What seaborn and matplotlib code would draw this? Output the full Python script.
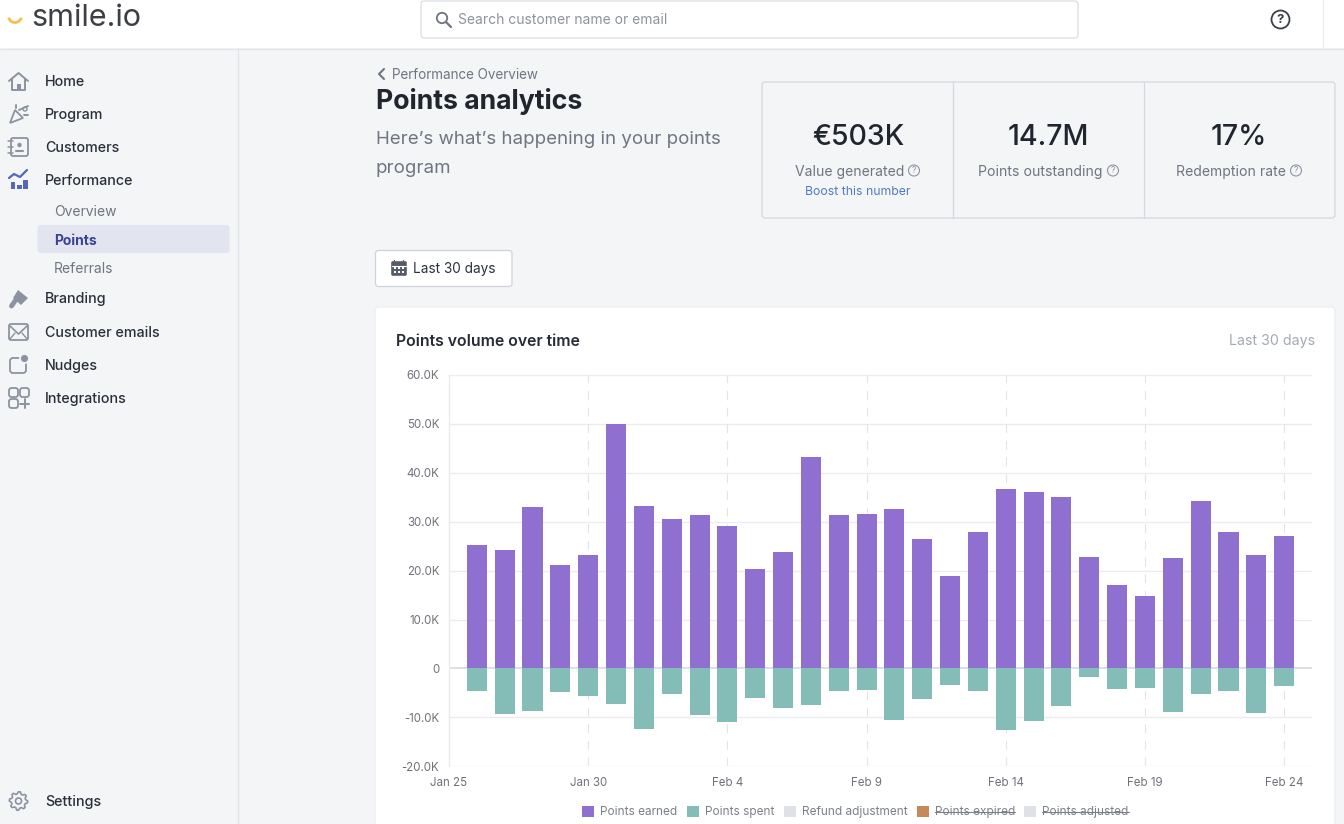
import numpy as np
import pandas as pd
import seaborn as sns
import matplotlib
matplotlib.use("Agg")
import matplotlib.pyplot as plt
from matplotlib.patches import Rectangle, FancyBboxPatch, Circle, Polygon, Arc
from matplotlib.lines import Line2D

# ---- chart data ----
days = list(range(1, 31))
earned = [25.2, 24.3, 33.0, 21.1, 23.2, 50.0, 33.2, 30.5, 31.3, 29.1, 20.4, 23.8, 43.3, 31.3, 31.5,
          32.5, 26.4, 18.9, 27.8, 36.6, 36.0, 35.1, 22.8, 17.0, 14.9, 22.6, 34.3, 27.9, 23.2, 27.1]
spent = [-4.6, -9.4, -8.7, -4.8, -5.7, -7.2, -12.4, -5.2, -9.5, -11.0, -6.0, -8.2, -7.5, -4.6, -4.5,
         -10.6, -6.3, -3.3, -4.6, -12.5, -10.8, -7.7, -1.7, -4.3, -4.0, -8.9, -5.2, -4.6, -9.1, -3.5]
tick_days = [0, 5, 10, 15, 20, 25, 30]
tick_dates = ["Jan 25", "Jan 30", "Feb 4", "Feb 9", "Feb 14", "Feb 19", "Feb 24"]
y_ticks = [-20, -10, 0, 10, 20, 30, 40, 50, 60]
y_labels = ["-20.0K", "-10.0K", "0", "10.0K", "20.0K", "30.0K", "40.0K", "50.0K", "60.0K"]
legend_names = ["Points earned", "Points spent", "Refund adjustment", "Points expired", "Points adjusted"]
legend_colors = ["#8F70D1", "#84BCB8", "#DFE1E7", "#C68A58", "#DFE1E7"]
nav_main = ["Home", "Program", "Customers", "Performance"]
nav_sub = ["Overview", "Points", "Referrals"]
nav_more = ["Branding", "Customer emails", "Nudges", "Integrations"]
kpi_values = ["€503K", "14.7M", "17%"]
kpi_names = ["Value generated", "Points outstanding", "Redemption rate"]

sns.set_theme(style="white")
plt.rcParams["font.family"] = ["Inter", "DejaVu Sans"]

W, H = 1344, 824
PAGE = "#F4F5F7"
fig = plt.figure(figsize=(W / 100, H / 100), dpi=100, facecolor=PAGE)

# ---- page furniture, in pixel coordinates ----
bg = fig.add_axes([0, 0, 1, 1], zorder=0)
bg.set_xlim(0, W)
bg.set_ylim(H, 0)
bg.axis("off")

INK = "#2A303B"
GREY = "#6F7581"
ICON = "#8C93A0"


def T(x, y, s, size, color=INK, weight="normal", ha="left", **kw):
    return bg.text(x, y + 1, s, fontsize=size, color=color, fontweight=weight, ha=ha, va="center", **kw)


def box(x0, y0, x1, y1, fc="white", ec="#D5D8DF", lw=0.8, r=3, z=1):
    p = FancyBboxPatch((x0 + r, y0 + r), x1 - x0 - 2 * r, y1 - y0 - 2 * r,
                       boxstyle=f"round,pad={r},rounding_size={r}",
                       fc=fc, ec=ec, lw=lw, zorder=z)
    bg.add_patch(p)
    return p


def L(xs, ys, color=ICON, lw=1.4, **kw):
    bg.add_line(Line2D(xs, ys, color=color, lw=lw, solid_capstyle="round", **kw))


# top bar
bg.add_patch(Rectangle((0, 0), W, 48, fc="white", ec="none", zorder=1))
bg.add_line(Line2D([0, W], [48.5, 48.5], color="#E3E5EA", lw=1.0, zorder=2))
bg.add_line(Line2D([238, 238], [48, H], color="#E3E5EA", lw=1.0, zorder=2))
bg.add_line(Line2D([1322.5, 1322.5], [0, 48], color="#E8EAEE", lw=0.8, zorder=2))
bg.add_patch(Arc((15, 16), 13, 13, theta1=15, theta2=165, color="#F2C14E", lw=2.0, zorder=3))
T(31, 17, "smile.io", 22, color="#3C3F44", zorder=3)
box(421, 1, 1078, 38, z=2)
bg.add_patch(Circle((442, 18), 5.2, fc="none", ec=GREY, lw=1.3, zorder=3))
L([446, 451], [22, 27], color=GREY, lw=1.6, zorder=3)
T(458, 19, "Search customer name or email", 10, color="#8E939D", zorder=3)
bg.add_patch(Circle((1280.5, 19.5), 9, fc="none", ec="#3B3F47", lw=1.3, zorder=3))
T(1280.5, 18.5, "?", 9.5, color="#3B3F47", weight="bold", ha="center", zorder=3)

# sidebar
for s, y in zip(nav_main, [81, 114, 146.5, 179.5]):
    T(45, y, s, 10.3, weight="medium")
bg.add_patch(FancyBboxPatch((38.5, 226), 190, 26, boxstyle="round,pad=1,rounding_size=3",
                            fc="#E2E5F0", ec="none", zorder=1))
for s, y in zip(nav_sub, [210.5, 239.5, 268]):
    active = s == "Points"
    T(54, y, s, 10, color="#3A4393" if active else GREY, weight="bold" if active else "normal", zorder=3)
for s, y in zip(nav_more, [298.5, 331.5, 364.5, 397.5]):
    T(45, y, s, 10.3, weight="medium")
T(45, 801, "Settings", 10.3, weight="medium")

# sidebar icons
L([9, 18.5, 28], [81, 73, 81])
L([12, 12, 25, 25], [79, 90, 90, 79])
bg.add_patch(Rectangle((16.5, 84), 4, 6, fc=ICON, ec="none"))
bg.add_patch(Polygon([(10, 123), (15, 110), (23, 118)], closed=True, fc="none", ec=ICON, lw=1.3))
L([19, 28], [110, 106]); L([24, 28], [115, 115]); L([16, 16], [105, 108])
bg.add_patch(Circle((25, 109), 2, fc="none", ec=ICON, lw=1))
box(11, 138, 28, 156, fc="none", ec=ICON, lw=1.3, r=2)
for yy in [141, 147, 153]:
    L([8, 13], [yy, yy], lw=1.1)
bg.add_patch(Circle((19.5, 145), 2.2, fc=ICON, ec="none"))
L([16, 23], [151, 151], lw=1.5)
bg.add_patch(Rectangle((10.5, 182), 4.5, 7, fc="#5667B8", ec="none"))
bg.add_patch(Rectangle((17, 185), 4.5, 4, fc="#5667B8", ec="none"))
bg.add_patch(Rectangle((23, 180), 4.5, 9, fc="#5667B8", ec="none"))
L([9, 14, 20, 27], [178, 174, 177, 170], color="#5667B8", lw=1.6)
bg.add_patch(Polygon([(18, 290), (28, 298), (21, 305), (13, 298)], closed=True, fc=ICON, ec="none"))
L([15, 11.5], [301, 306], lw=3.5)
box(9, 324, 28, 340, fc="none", ec=ICON, lw=1.3, r=2)
L([10, 18.5, 27], [326, 334, 326], lw=1.2)
L([10, 15], [339, 333], lw=1.0); L([27, 22], [339, 333], lw=1.0)
box(10, 358, 26, 373, fc="none", ec=ICON, lw=1.3, r=3)
bg.add_patch(Circle((24.5, 358.5), 4.5, fc=ICON, ec=PAGE, lw=1.3, zorder=5))
box(9, 388, 18, 397, fc="none", ec=ICON, lw=1.3, r=2.5)
box(20, 388, 29, 397, fc="none", ec=ICON, lw=1.3, r=2.5)
box(9, 399, 18, 408, fc="none", ec=ICON, lw=1.3, r=2.5)
L([20, 29], [403.5, 403.5]); L([24.5, 24.5], [399, 408])
gear_ang = np.linspace(0, 2 * np.pi, 33)[:-1]
gear_r = np.where(np.arange(32) % 4 < 2, 9.2, 7.2)
bg.add_patch(Polygon(np.c_[18.5 + gear_r * np.cos(gear_ang), 801 + gear_r * np.sin(gear_ang)],
                     closed=True, fc="none", ec=ICON, lw=1.2))
bg.add_patch(Circle((18.5, 801), 3, fc="none", ec=ICON, lw=1.2))

# page heading
L([384, 379, 384], [69, 74, 79], color=GREY, lw=1.5)
T(392, 73.5, "Performance Overview", 9.7, color=GREY)
T(375.5, 100, "Points analytics", 19.2, color="#20252E", weight="bold")
T(375.5, 138.5, "Here’s what’s happening in your points", 13.45, color=GREY)
T(375.5, 167.5, "program", 13.45, color=GREY)

# KPI cards
box(762, 82, 1335, 218, fc=PAGE, ec="#D5D8DF", lw=0.9)
for x in [953, 1144]:
    bg.add_line(Line2D([x, x], [82, 218], color="#D5D8DF", lw=0.9, zorder=2))
for cx, v, n in zip([858, 1048, 1239], kpi_values, kpi_names):
    T(cx, 136, v, 20.5, color="#20252E", weight="medium", ha="center", zorder=3)
    T(cx - 8, 170.5, n, 10.1, color=GREY, ha="center", zorder=3)
for qx in [914, 1113, 1296]:
    bg.add_patch(Circle((qx, 170.5), 5.5, fc="none", ec="#8E939D", lw=0.8, zorder=3))
    T(qx, 169.5, "?", 6, color="#8E939D", ha="center", zorder=3)
T(858, 190.5, "Boost this number", 8.8, color="#4F7CC4", ha="center", zorder=3)

# date button
box(375.5, 250.5, 512, 286.5, ec="#CFD2D9", lw=0.9)
bg.add_patch(FancyBboxPatch((392, 262), 14, 13, boxstyle="round,pad=0.8,rounding_size=1.5",
                            fc="#555C68", ec="none", zorder=3))
for xx in [394, 397, 394 + 3 * 2, 403]:
    L([xx, xx], [260, 262], color="#555C68", lw=0.9, zorder=3) if xx in (394, 403) else None
L([392, 406], [265.5, 265.5], color="white", lw=0.8, zorder=4)
for xx in range(393, 405, 4):
    for yy in [267, 271]:
        bg.add_patch(Rectangle((xx + 0.5, yy), 2.2, 2.2, fc="white", ec="none", zorder=4))
T(413, 267.5, "Last 30 days", 9.8, color="#2A303B", zorder=3)

# chart card
box(375, 307, 1335, 860, ec="#ECEDF1", lw=0.8, r=4)
T(396, 340, "Points volume over time", 11.4, color="#262B35", weight="semibold", zorder=3)
T(1315, 340, "Last 30 days", 10.2, color="#A3A8B2", ha="right", zorder=3)

# ---- chart ----
left, right, top, bottom = 449, 1312, 375, 766.2
ax = fig.add_axes([left / W, 1 - bottom / H, (right - left) / W, (bottom - top) / H], zorder=2)
ax.patch.set_alpha(0)

df = pd.DataFrame({
    "day": days * 2,
    "value": earned + spent,
    "series": [legend_names[0]] * len(days) + [legend_names[1]] * len(days),
})
sns.barplot(data=df, x="day", y="value", hue="series", dodge=False, native_scale=True,
            palette={legend_names[0]: legend_colors[0], legend_names[1]: legend_colors[1]},
            width=0.72, saturation=1, errorbar=None, legend=False, linewidth=0, ax=ax, zorder=3)

ax.set_xlim(0, 31)
ax.set_ylim(-20, 60)
ax.set_xticks(tick_days, tick_dates)
ax.set_yticks(y_ticks, y_labels)
ax.set_xlabel("")
ax.set_ylabel("")
ax.tick_params(axis="x", length=5.5, width=0.8, color="#E6E7EB", labelsize=8.3, labelcolor="#6E727A", pad=2.5)
ax.tick_params(axis="y", length=7, width=0.8, color="#E6E7EB", labelsize=8.3, labelcolor="#6E727A", pad=0)
for side in ["top", "right", "bottom"]:
    ax.spines[side].set_visible(False)
ax.spines["left"].set_color("#E8E9ED")
ax.spines["left"].set_linewidth(0.9)
for v in y_ticks:
    ax.axhline(v, color="#D9DADF" if v == 0 else "#EBECEF", lw=1.2 if v == 0 else 1.0, zorder=1)
for d in tick_days[1:]:
    ax.axvline(d, color="#E3E4E8", lw=0.8, ls=(0, (8, 7)), zorder=1)
ax.set_axisbelow(True)

handles = [Rectangle((0, 0), 1, 1, fc=c, ec="none") for c in legend_colors]
leg = ax.legend(handles, legend_names, loc="center",
                bbox_to_anchor=((855.5 - left) / (right - left), -(812 - bottom) / (bottom - top)),
                ncol=5, frameon=False, fontsize=8.5, handlelength=1.02, handleheight=1.02,
                handletextpad=0.5, columnspacing=0.8, labelcolor="#7C8089")
fig.canvas.draw()
for txt in leg.get_texts()[3:]:
    bb = txt.get_window_extent()
    ymid = (bb.y0 + bb.y1) / 2
    fig.add_artist(Line2D([bb.x0 / W, bb.x1 / W], [ymid / H, ymid / H], color="#7C8089", lw=0.8,
                          transform=fig.transFigure))

fig.savefig("out.png", dpi=100, facecolor=fig.get_facecolor())
